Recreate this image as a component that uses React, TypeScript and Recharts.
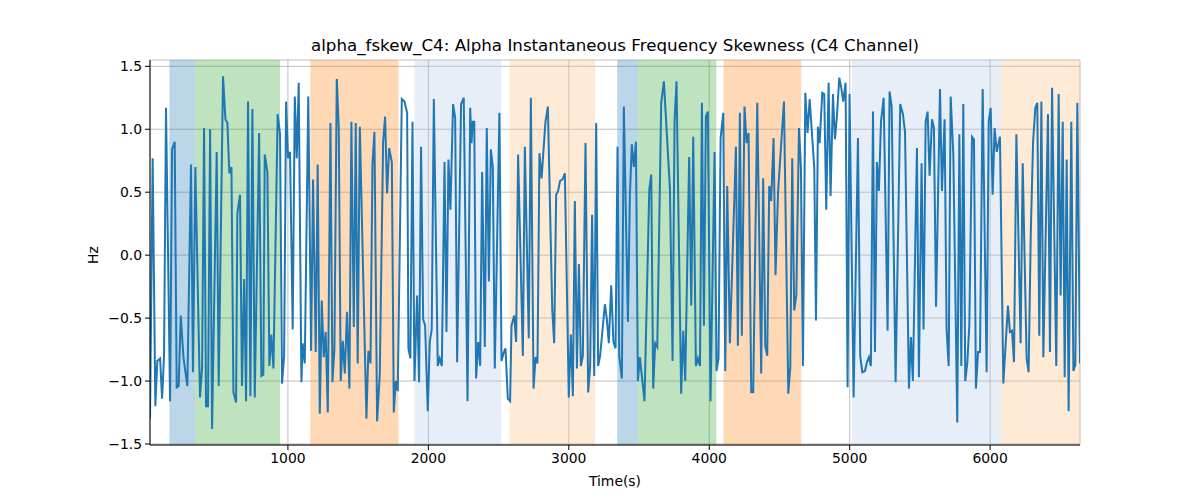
import React from 'react';
import { ComposedChart, Line, XAxis, YAxis, CartesianGrid, ReferenceArea } from 'recharts';

const times: number[] = [
  18, 37, 56, 70, 90, 104, 118, 132, 161, 175, 194, 208, 222, 237, 256, 284, 310, 324, 341, 374,
  389, 403, 417, 431, 446, 460, 493, 507, 538, 555, 569, 583, 598, 612, 631, 640, 659, 673, 688, 702,
  716, 733, 747, 764, 795, 811, 825, 835, 854, 868, 882, 897, 927, 944, 958, 973, 987, 1001, 1015, 1034,
  1049, 1063, 1077, 1096, 1105, 1120, 1145, 1165, 1179, 1198, 1212, 1227, 1241, 1255, 1269, 1284, 1303, 1317, 1331, 1348,
  1362, 1376, 1391, 1405, 1421, 1438, 1452, 1469, 1483, 1497, 1512, 1559, 1573, 1588, 1602, 1616, 1635, 1654, 1678, 1692,
  1706, 1721, 1740, 1754, 1768, 1782, 1811, 1830, 1849, 1858, 1872, 1887, 1901, 1920, 1934, 1948, 1963, 1977, 1996, 2010,
  2024, 2039, 2067, 2081, 2096, 2115, 2129, 2143, 2157, 2176, 2191, 2205, 2233, 2252, 2279, 2298, 2307, 2317, 2327, 2340,
  2355, 2369, 2383, 2402, 2416, 2431, 2445, 2459, 2473, 2506, 2521, 2535, 2549, 2566, 2582, 2592, 2611, 2625, 2639, 2673,
  2687, 2715, 2730, 2749, 2763, 2777, 2791, 2806, 2834, 2851, 2882, 2896, 2910, 2924, 2938, 2953, 2962, 2972, 3000, 3015,
  3029, 3043, 3058, 3072, 3086, 3100, 3119, 3138, 3152, 3166, 3181, 3195, 3209, 3223, 3257, 3271, 3285, 3302, 3318, 3333,
  3347, 3359, 3378, 3392, 3421, 3435, 3449, 3463, 3478, 3492, 3506, 3539, 3573, 3587, 3601, 3615, 3630, 3658, 3677, 3720,
  3739, 3753, 3767, 3800, 3815, 3829, 3857, 3872, 3886, 3905, 3919, 3934, 3948, 3962, 3976, 3990, 4009, 4038, 4052, 4066,
  4081, 4100, 4114, 4128, 4147, 4190, 4204, 4218, 4232, 4251, 4266, 4280, 4299, 4313, 4342, 4370, 4384, 4399, 4413, 4427,
  4441, 4458, 4472, 4490, 4532, 4563, 4577, 4591, 4605, 4620, 4639, 4653, 4667, 4684, 4700, 4715, 4748, 4760, 4774, 4786,
  4805, 4819, 4833, 4850, 4864, 4881, 4895, 4909, 4926, 4940, 4954, 4971, 4985, 4999, 5028, 5059, 5075, 5090, 5109, 5123,
  5137, 5151, 5166, 5180, 5194, 5208, 5223, 5242, 5270, 5284, 5299, 5327, 5360, 5379, 5394, 5422, 5436, 5450, 5479, 5493,
  5512, 5526, 5541, 5555, 5569, 5586, 5600, 5615, 5643, 5657, 5676, 5690, 5705, 5719, 5738, 5766, 5781, 5795, 5809, 5823,
  5838, 5852, 5871, 5885, 5899, 5914, 5928, 5947, 5975, 5990, 6004, 6018, 6032, 6047, 6070, 6094, 6127, 6141, 6156, 6170,
  6187, 6217, 6232, 6260, 6274, 6290, 6306, 6322, 6336, 6350, 6365, 6379, 6412, 6426, 6441, 6471, 6488, 6502, 6517, 6531,
  6545, 6559, 6578, 6593, 6607, 6621, 6640,
];

const values: number[] = [
  -1.30, 0.77, -1.20, -0.84, -0.82, -1.14, -0.80, 1.17, -1.16, 0.84, 0.90, -1.05, -1.04, -0.48, -0.81, -1.04, 0.72, -0.93, 0.70, -1.13,
  -0.89, 1.01, -1.20, -1.20, 1.00, -1.38, 0.82, -1.04, 1.42, 1.08, 1.05, 0.65, 0.70, -1.09, -1.17, 0.33, 0.48, -1.04, -0.19, -1.16,
  1.22, -1.12, 1.16, -1.13, 0.97, -0.96, -0.95, 0.80, 0.66, -0.88, -0.63, -0.90, 1.12, 0.96, -1.02, -0.80, 1.22, 0.77, 0.82, -0.59,
  1.26, 0.77, 1.37, -1.01, -0.70, -0.86, 1.26, -0.76, 0.60, -0.77, 0.72, -1.26, -0.36, -0.81, -0.61, -1.25, 1.05, -1.01, -0.75, 1.40,
  1.01, -1.00, -0.68, -0.94, -0.45, -1.06, 1.06, -0.57, 1.05, -0.86, 1.02, -1.30, -0.76, -0.86, 0.72, 0.98, -1.32, -0.95, 0.90, 1.10,
  0.49, 0.85, 0.74, -1.25, -1.00, -1.08, 1.24, 1.22, 1.13, -0.74, -0.82, 1.06, -1.00, -0.32, -1.01, 0.86, -0.51, -0.56, -1.24, -0.69,
  -0.59, 1.24, -0.88, -0.82, -0.88, 0.74, -0.61, 0.76, 0.36, 1.20, 1.09, -0.85, 1.20, 1.25, -1.16, 1.17, 0.89, 1.06, 1.06, -0.98,
  -0.69, -0.88, 0.66, -0.73, 1.01, -0.21, 0.84, 0.70, -0.90, 1.13, -0.84, -0.78, -0.74, -1.14, -1.16, -0.56, -0.48, -0.69, 0.80, -0.80,
  0.86, -0.66, 1.25, -1.06, -0.81, -0.86, 0.81, 0.61, 1.06, 1.18, -0.43, -0.70, 0.48, 0.51, 0.59, 0.60, 0.62, 0.65, -1.13, -0.63,
  -1.12, 0.43, -0.90, -0.07, -0.88, -0.80, 0.89, -1.09, -0.88, 0.32, -0.96, 1.05, -0.88, -0.80, -0.39, -0.51, -0.70, -0.24, -0.69, -0.74,
  0.86, -0.80, -0.98, 1.18, -0.53, 0.48, 0.88, 0.70, 0.90, -1.00, -0.81, -1.16, 0.52, 0.64, -1.06, -0.70, -0.73, 1.21, 1.38, 0.53,
  -0.84, 1.06, 1.38, -1.10, -0.60, -1.00, 0.78, -0.40, 0.94, -0.88, -0.82, -0.88, 1.21, -0.56, 1.10, 1.14, -1.16, 0.82, -0.92, -0.82,
  0.93, 1.13, -0.92, 0.55, -0.70, 0.86, -0.72, 1.13, -0.64, 1.18, 0.89, 0.97, -1.09, -1.09, 1.21, -0.94, 0.61, -0.72, -0.80, 0.55,
  0.43, 0.93, -0.16, 0.50, 1.22, -1.10, -0.89, 0.77, -0.44, -0.32, 1.01, 0.69, -0.88, 1.29, 0.97, 1.24, 0.69, -0.52, 1.02, 0.89,
  1.29, 1.28, 0.36, 1.37, 0.47, 1.28, 0.92, 1.10, 1.41, 1.33, 1.22, 1.37, -1.05, 1.28, -1.13, 0.93, -0.80, -0.93, -0.92, -0.85,
  -0.81, -0.88, 1.14, -0.77, 0.74, 0.51, 1.06, 1.25, -0.60, 1.30, 1.18, -1.01, 1.20, 1.12, 0.98, -1.06, -0.65, -1.00, 0.85, -0.97,
  0.73, -0.59, 1.06, 1.14, 0.63, 1.08, 1.01, -0.41, 1.32, 0.51, 1.08, -0.59, -0.88, 1.26, 0.80, -1.33, 0.96, -0.88, 1.20, -1.00,
  -0.85, -0.55, 0.94, 0.92, -1.06, -0.77, -0.77, 1.32, -0.93, 1.06, 1.17, 0.48, 1.01, 0.82, 0.94, -1.02, -0.40, -0.61, -0.60, -0.85,
  0.96, -0.70, 0.73, -0.82, -0.93, 0.20, 0.90, 1.17, 1.21, -0.64, 1.22, -0.81, 1.12, -0.77, 1.33, -0.88, 1.28, -0.32, 1.06, -0.97,
  0.76, -1.24, 1.06, -0.92, -0.87, 1.21, -0.86,
];

const bandStarts: number[] = [156, 339, 1160, 1901, 2578, 3345, 3492, 4102, 5014, 6077];
const bandEnds: number[] = [339, 944, 1787, 2518, 3188, 3492, 4050, 4655, 6077, 6640];
const bandColors: string[] = ['#1f77b4', '#2ca02c', '#ff7f0e', '#aec7e8', '#ffbb78', '#1f77b4', '#2ca02c', '#ff7f0e', '#aec7e8', '#ffbb78'];
const bandOpacities: number[] = [0.3, 0.3, 0.3, 0.3, 0.3, 0.3, 0.3, 0.3, 0.3, 0.3];

const xTicks: number[] = [1000, 2000, 3000, 4000, 5000, 6000];
const yTicks: number[] = [-1.5, -1.0, -0.5, 0.0, 0.5, 1.0, 1.5];

const title = 'alpha_fskew_C4: Alpha Instantaneous Frequency Skewness (C4 Channel)';
const xLabel = 'Time(s)';
const yLabel = 'Hz';

const data = times.map((t, i) => ({ t, v: values[i] }));

const FONT = "'DejaVu Sans', sans-serif";
const fmtY = (v: number) => (v < 0 ? '\u2212' : '') + Math.abs(v).toFixed(1);

export default function App() {
  return (
    <div style={{ position: 'absolute', left: 0, top: 0, width: 1200, height: 500, background: '#fff', fontFamily: FONT }}>
      <div style={{ position: 'absolute', left: 150, width: 930, top: 35, lineHeight: '20px', fontSize: 16.7, textAlign: 'center', color: '#000' }}>
        {title}
      </div>
      <div style={{ position: 'absolute', left: 150, width: 930, top: 472, lineHeight: '18px', fontSize: 13.9, textAlign: 'center', color: '#000' }}>
        {xLabel}
      </div>
      <div style={{ position: 'absolute', left: 93, top: 255, lineHeight: '18px', fontSize: 13.9, color: '#000', transform: 'translate(-50%, -50%) rotate(-90deg)' }}>
        {yLabel}
      </div>
      <ComposedChart width={1200} height={500} data={data} margin={{ top: 60, right: 120, bottom: 25, left: 100 }}>
        <CartesianGrid stroke="#b0b0b0" strokeWidth={0.8} />
        {bandStarts.map((s, i) => (
          <ReferenceArea key={i} x1={s} x2={bandEnds[i]} fill={bandColors[i]} fillOpacity={bandOpacities[i]} stroke="none" ifOverflow="hidden" />
        ))}
        <XAxis
          dataKey="t"
          type="number"
          domain={[18, 6640]}
          ticks={xTicks}
          allowDataOverflow
          height={30}
          tickSize={5}
          tickMargin={3}
          stroke="#000"
          tick={{ fill: '#000', fontSize: 13.9, fontFamily: FONT }}
        />
        <XAxis xAxisId="top" orientation="top" type="number" domain={[18, 6640]} height={0} tick={false} tickLine={false} stroke="#000" />
        <YAxis
          type="number"
          domain={[-1.508, 1.55]}
          ticks={yTicks}
          allowDataOverflow
          width={50}
          tickSize={5}
          tickMargin={3}
          stroke="#000"
          tickFormatter={fmtY}
          tick={{ fill: '#000', fontSize: 13.9, fontFamily: FONT }}
        />
        <YAxis yAxisId="right" orientation="right" type="number" domain={[-1.508, 1.55]} width={0} tick={false} tickLine={false} stroke="#000" />
        <Line dataKey="v" stroke="#1f77b4" strokeWidth={2} dot={false} isAnimationActive={false} />
      </ComposedChart>
    </div>
  );
}
